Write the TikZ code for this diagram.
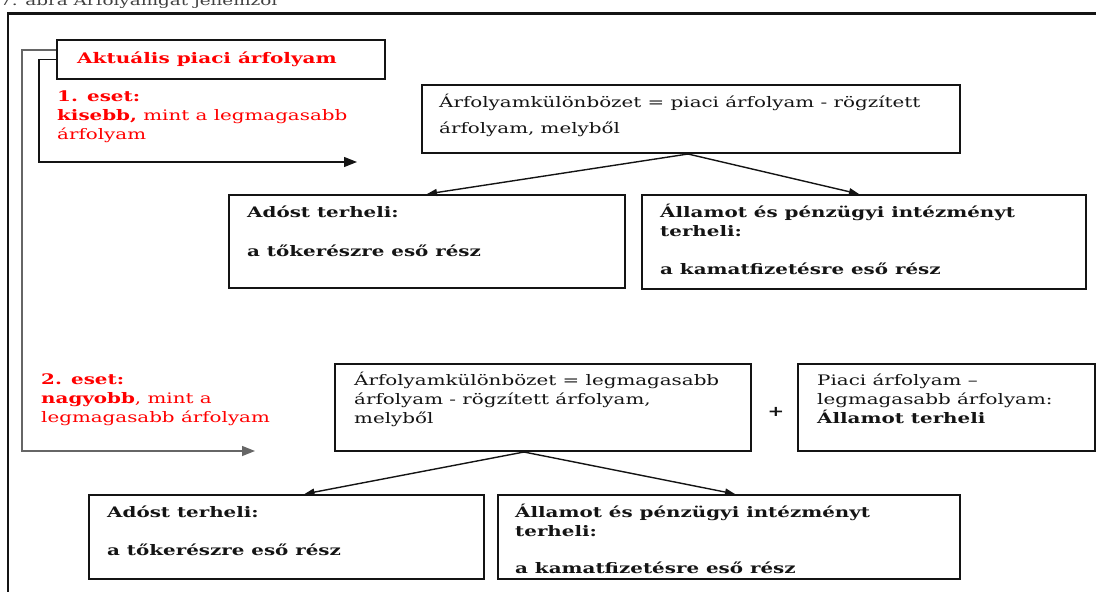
\documentclass[tikz,border=0pt]{standalone}
\usepackage{fontspec}
\setmainfont{DejaVu Serif}[FakeStretch=1.37]
\usetikzlibrary{arrows.meta,positioning}
\definecolor{caseRed}{RGB}{255,0,0}
\definecolor{ink}{RGB}{20,20,20}
\newcommand{\txtlines}[1]{\parbox[t]{30cm}{#1}}

\begin{document}
\begin{tikzpicture}[x=1pt,y=-1pt,
		box/.style={draw=ink, line width=2pt, anchor=north west, inner sep=0pt},
		txt/.style={anchor=base west, inner sep=0pt, text=ink, font=\fontsize{14.5}{19}\selectfont},
		txtb/.style={txt, font=\fontsize{14.5}{19}\selectfont\bfseries},
		rtxt/.style={txt, text=caseRed},
		route/.style={line width=1.4pt, -{Triangle[length=13pt,width=10pt]}},
		arr/.style={line width=1.4pt, draw=ink, -{Triangle[length=10pt,width=7pt]}}]
		\useasboundingbox (0,0) rectangle (1096,592);
		% caption and frame
		\node[txt, text=black!75, font=\fontsize{13.4}{16}\selectfont] (cap) at (0,5) {7. ábra Árfolyamgát jellemzői};
		\draw[line width=2.5pt, ink] (8,13.5) rectangle (1120,620);
		% boxes
		\node[box, minimum width=328pt, minimum height=39pt] (akt) at (56,39) {};
		\node[box, minimum width=538pt, minimum height=68pt] (kul1) at (421,84) {};
		\node[box, minimum width=396pt, minimum height=93pt] (ados1) at (228,194) {};
		\node[box, minimum width=444pt, minimum height=94pt] (allam1) at (641,194) {};
		\node[box, minimum width=416pt, minimum height=87pt] (kul2) at (334,363) {};
		\node[box, minimum width=297pt, minimum height=87pt] (piaci2) at (797,363) {};
		\node[box, minimum width=395pt, minimum height=84pt] (ados2) at (88,494) {};
		\node[box, minimum width=462pt, minimum height=84pt] (allam2) at (497,494) {};
		% texts
		\node[rtxt, font=\fontsize{14.6}{20}\selectfont\bfseries] (tAkt) at (77,63) {Aktuális piaci árfolyam};
		\node[rtxt] (tEset1) at (57,101) {\txtlines{\textbf{1. eset:}\\ \textbf{kisebb,} mint a legmagasabb\\ árfolyam}};
		\node[txt] (tKul1) at (439,107) {\txtlines{Árfolyamkülönbözet = piaci árfolyam - rögzített\\[7pt] árfolyam, melyből}};
		\node[txtb] (tAdos1) at (247,217) {\txtlines{Adóst terheli:\\[20pt] a tőkerészre eső rész}};
		\node[txtb] (tAllam1) at (660,217) {\txtlines{Államot és pénzügyi intézményt\\ terheli:\\[19pt] a kamatfizetésre eső rész}};
		\node[rtxt] (tEset2) at (41,384) {\txtlines{\textbf{2. eset:}\\ \textbf{nagyobb}, mint a\\ legmagasabb árfolyam}};
		\node[txt] (tKul2) at (354,385) {\txtlines{Árfolyamkülönbözet = legmagasabb\\ árfolyam - rögzített árfolyam,\\ melyből}};
		\node[txtb, anchor=center] (plus) at (776,412) {+};
		\node[txt] (tPiaci2) at (817,385) {\txtlines{Piaci árfolyam --\\ legmagasabb árfolyam:\\ \textbf{Államot terheli}}};
		\node[txtb] (tAdos2) at (107,517) {\txtlines{Adóst terheli:\\[19pt] a tőkerészre eső rész}};
		\node[txtb] (tAllam2) at (515,517) {\txtlines{Államot és pénzügyi intézményt\\ terheli:\\[18pt] a kamatfizetésre eső rész}};
		% routes from the market rate box
		\coordinate (end1) at (357,162);
		\coordinate (end2) at (255,451);
		\draw[route, black!60] ([yshift=9.5pt]akt.west) -| (22,451) -- (end2);
		\draw[route, ink] (akt.west) -| (39,162) -- (end1);
		% splits
		\path
		([xshift=-3pt]kul1.south) edge[arr] (ados1.north)
		([xshift=-3pt]kul1.south) edge[arr] ([xshift=-5pt]allam1.north)
		([xshift=-19pt]kul2.south) edge[arr] ([xshift=18pt]ados2.north)
		([xshift=-19pt]kul2.south) edge[arr] ([xshift=6pt]allam2.north);
	\end{tikzpicture}
\end{document}
